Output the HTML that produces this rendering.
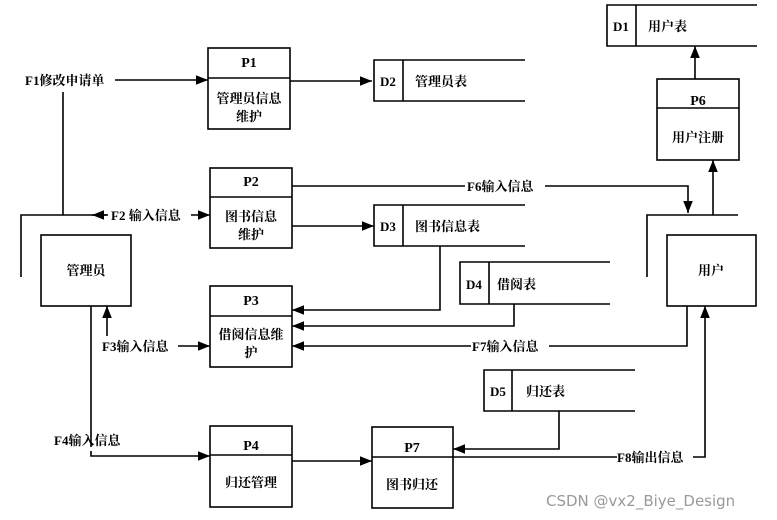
<!DOCTYPE html>
<html><head><meta charset="utf-8"><style>
html,body{margin:0;padding:0;background:#fff;}
svg{display:block;}
text{font-family:"Liberation Serif","Noto Serif CJK SC",serif;font-weight:bold;font-size:13px;fill:#000;}
.p{font-size:14px;}
</style></head><body>
<svg width="777" height="520" viewBox="0 0 777 520" xmlns="http://www.w3.org/2000/svg">
<defs>
<marker id="a" viewBox="0 0 10 10" refX="10" refY="5" markerWidth="12" markerHeight="12" markerUnits="userSpaceOnUse" orient="auto"><path d="M0,1 L10,5 L0,9 z" fill="#000"/></marker>
</defs>
<g fill="none" stroke="#000" stroke-width="1.6">
<!-- processes -->
<rect x="208" y="48" width="82" height="81"/><line x1="208" y1="78" x2="290" y2="78"/>
<rect x="210" y="168" width="82" height="80"/><line x1="210" y1="197" x2="292" y2="197"/>
<rect x="210" y="286" width="82" height="81"/><line x1="210" y1="316" x2="292" y2="316"/>
<rect x="210" y="426" width="82" height="81"/><line x1="210" y1="455" x2="292" y2="455"/>
<rect x="372" y="427" width="81" height="81"/><line x1="372" y1="457" x2="453" y2="457"/>
<rect x="657" y="79" width="82" height="81"/><line x1="657" y1="108" x2="739" y2="108"/>
<!-- entities -->
<rect x="41" y="235" width="90" height="71"/>
<rect x="667" y="235" width="89" height="71"/>
<!-- data stores -->
<path d="M757,5 H607 V46 H757 M636,5 V46"/>
<path d="M525,60 H374 V101 H525 M403,60 V101"/>
<path d="M525,205 H374 V246 H525 M403,205 V246"/>
<path d="M610,262 H460 V304 H610 M489,262 V304"/>
<path d="M635,370 H484 V411 H635 M512,370 V411"/>
<!-- flows -->
<path d="M115,80 H208" marker-end="url(#a)"/>
<path d="M63,92 V215"/>
<path d="M21,277 V215 H106"/>
<path d="M108,215 H92" marker-end="url(#a)"/>
<path d="M191,215 H210" marker-end="url(#a)"/>
<path d="M290,81 H372" marker-end="url(#a)"/>
<path d="M292,186 H465"/><path d="M545,186 H688 V213" marker-end="url(#a)"/>
<path d="M292,226 H374" marker-end="url(#a)"/>
<path d="M440,246 V310 H292" marker-end="url(#a)"/>
<path d="M514,304 V326 H292" marker-end="url(#a)"/>
<path d="M687,306 V346 H549"/><path d="M471,346 H292" marker-end="url(#a)"/>
<path d="M647,277 V215 H738"/>
<path d="M713,215 V160" marker-end="url(#a)"/>
<path d="M695,79 V46" marker-end="url(#a)"/>
<path d="M107,336 V306" marker-end="url(#a)"/>
<path d="M178,346 H210" marker-end="url(#a)"/>
<path d="M91,306 V447"/>
<path d="M91,451 V456 H210" marker-end="url(#a)"/>
<path d="M292,461 H372" marker-end="url(#a)"/>
<path d="M559,411 V449 H453" marker-end="url(#a)"/>
<path d="M453,457 H617"/><path d="M693,457 H705 V306" marker-end="url(#a)"/>
</g>
<g text-anchor="middle" class="p">
<text x="249" y="67" class="p">P1</text>
<text x="249" y="103">管理员信息</text><text x="249" y="121">维护</text>
<text x="251" y="186" class="p">P2</text>
<text x="251" y="221">图书信息</text><text x="251" y="239">维护</text>
<text x="251" y="305" class="p">P3</text>
<text x="251" y="339">借阅信息维</text><text x="251" y="357">护</text>
<text x="251" y="450" class="p">P4</text>
<text x="251" y="487">归还管理</text>
<text x="412" y="452" class="p">P7</text>
<text x="412" y="489">图书归还</text>
<text x="698" y="105" class="p">P6</text>
<text x="698" y="142">用户注册</text>
<text x="86" y="275">管理员</text>
<text x="711" y="275">用户</text>
</g>
<g>
<text x="613" y="31">D1</text><text x="648" y="31">用户表</text>
<text x="380" y="86">D2</text><text x="415" y="86">管理员表</text>
<text x="380" y="231">D3</text><text x="415" y="231">图书信息表</text>
<text x="466" y="289">D4</text><text x="497" y="289">借阅表</text>
<text x="490" y="396">D5</text><text x="526" y="396">归还表</text>
<text x="25" y="85">F1修改申请单</text>
<text x="111" y="220">F2 输入信息</text>
<text x="467" y="191">F6输入信息</text>
<text x="472" y="351">F7输入信息</text>
<text x="102" y="351">F3输入信息</text>
<text x="54" y="445">F4输入信息</text>
<text x="617" y="462">F8输出信息</text>
</g>
<text x="546" y="506" style="font-family:'DejaVu Sans','Liberation Sans',sans-serif;font-weight:normal;font-size:15px;fill:#9a9a9a">CSDN @vx2_Biye_Design</text>
</svg>
</body></html>
